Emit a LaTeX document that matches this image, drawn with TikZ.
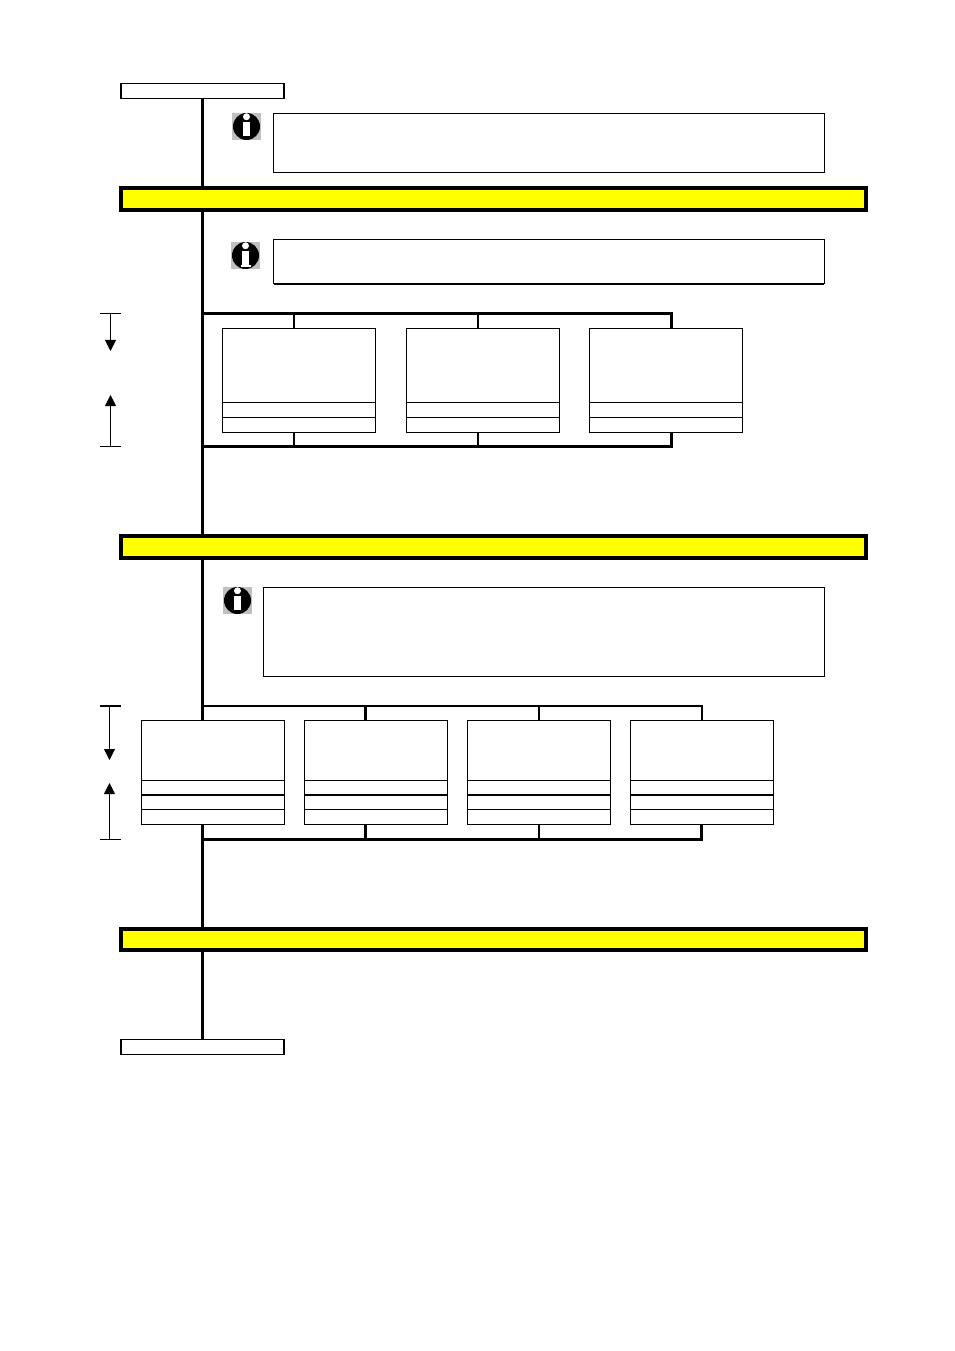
\documentclass[tikz,border=0pt]{standalone}
\usepackage{tikz}
\usetikzlibrary{arrows.meta,positioning}
\usepackage{xcolor}
\definecolor{bandyellow}{RGB}{255,255,0}
\definecolor{icongrey}{RGB}{192,192,192}
\def\px{0.75pt}
\tikzstyle{cell} = [draw, line width=1*\px, fill=white, inner sep=0pt, outer sep=0pt]
\tikzstyle{cella} = [cell, minimum width=153.4*\px]
\tikzstyle{cellb} = [cell, minimum width=142.6*\px]
\tikzstyle{note} = [cell]
\tikzstyle{terminal} = [cell, line width=1.3*\px, minimum width=163*\px, minimum height=15*\px]
\tikzstyle{band} = [draw, line width=4*\px, fill=bandyellow, inner sep=0pt, outer sep=0pt, minimum width=745*\px, minimum height=22*\px]
\tikzstyle{spine} = [line width=3*\px]
\tikzstyle{bus} = [line width=2.8*\px]
\tikzstyle{rule} = [line width=2*\px]
\tikzstyle{base} = [line width=1.6*\px]
\tikzstyle{dim} = [line width=1*\px]
\tikzstyle{arrow} = [dim, -{Triangle[width=11*\px,length=11*\px]}]
\newcommand{\infoicon}[2]{
\node[fill=icongrey, inner sep=0pt, minimum width=29*\px, minimum height=27*\px] (#1) at (#2) {};
\node[fill=black, circle, inner sep=0pt, minimum size=27*\px] (#1disc) at (#1) {};
\node[fill=white, circle, inner sep=0pt, minimum size=7*\px, above=6*\px of #1.center] (#1dot) {};
\node[fill=white, inner sep=0pt, minimum width=7*\px, minimum height=14*\px, below=-5*\px of #1.center] (#1stem) {};
}
\begin{document}
\begin{tikzpicture}[x=\px, y=-\px]
\useasboundingbox (0,0) rectangle (954,1351);
% Terminals
\node[terminal] (start) at (202.5,91) {};
\node[terminal] (end) at (202.5,1047) {};

% Section bands
\node[band] (banda) at (493,199) {};
\node[band] (bandb) at (493,547) {};
\node[band, minimum height=21*\px] (bandc) at (493,939) {};

% Notes
\infoicon{infoa}{246.5,126.5}
\node[note, minimum width=550.9*\px, minimum height=59*\px] (notea) at (548.95,143) {};
\infoicon{infob}{245.5,255.5}
\node[fill=white, inner sep=0pt, minimum width=10*\px, minimum height=1.5*\px, below=0pt of infobstem] (infobbase) {};
\node[note, minimum width=550.9*\px, minimum height=44.5*\px] (noteb) at (548.95,261.75) {};
\infoicon{infoc}{237.5,600.5}
\node[note, minimum width=560.9*\px, minimum height=89*\px] (notec) at (543.95,632) {};
\draw[base] (noteb.south west) -- (noteb.south east);

% Group a - three boxes
\node[cella, minimum height=74*\px] (boxa) at (299.2,365.5) {};
\node[cella, minimum height=15*\px] (boxa1) at (299.2,410) {};
\node[cella, minimum height=15*\px] (boxa2) at (299.2,425) {};
\node[cella, minimum height=74*\px] (boxb) at (483.2,365.5) {};
\node[cella, minimum height=15*\px] (boxb1) at (483.2,410) {};
\node[cella, minimum height=15*\px] (boxb2) at (483.2,425) {};
\node[cella, minimum height=74*\px] (boxc) at (666.2,365.5) {};
\node[cella, minimum height=15*\px] (boxc1) at (666.2,410) {};
\node[cella, minimum height=15*\px] (boxc2) at (666.2,425) {};
\draw[base] (boxa2.south west) -- (boxa2.south east);
\draw[base] (boxb2.south west) -- (boxb2.south east);
\draw[base] (boxc2.south west) -- (boxc2.south east);

% Group b - four boxes
\node[cellb, minimum height=60*\px] (boxd) at (212.8,750.5) {};
\node[cellb, minimum height=14.5*\px] (boxd1) at (212.8,787.75) {};
\node[cellb, minimum height=14.5*\px] (boxd2) at (212.8,802.25) {};
\node[cellb, minimum height=15*\px] (boxd3) at (212.8,817) {};
\node[cellb, minimum height=60*\px] (boxe) at (375.8,750.5) {};
\node[cellb, minimum height=14.5*\px] (boxe1) at (375.8,787.75) {};
\node[cellb, minimum height=14.5*\px] (boxe2) at (375.8,802.25) {};
\node[cellb, minimum height=15*\px] (boxe3) at (375.8,817) {};
\node[cellb, minimum height=60*\px] (boxf) at (538.9,750.5) {};
\node[cellb, minimum height=14.5*\px] (boxf1) at (538.9,787.75) {};
\node[cellb, minimum height=14.5*\px] (boxf2) at (538.9,802.25) {};
\node[cellb, minimum height=15*\px] (boxf3) at (538.9,817) {};
\node[cellb, minimum height=60*\px] (boxg) at (701.9,750.5) {};
\node[cellb, minimum height=14.5*\px] (boxg1) at (701.9,787.75) {};
\node[cellb, minimum height=14.5*\px] (boxg2) at (701.9,802.25) {};
\node[cellb, minimum height=15*\px] (boxg3) at (701.9,817) {};
\draw[rule] (boxd1.south west) -- (boxd1.south east);
\draw[rule] (boxe1.south west) -- (boxe1.south east);
\draw[rule] (boxf1.south west) -- (boxf1.south east);
\draw[rule] (boxg1.south west) -- (boxg1.south east);

% Spine
\draw[spine] (start.south) -- (start.south |- banda.north);
\draw[spine] (start.south |- banda.south) -- (start.south |- bandb.north);
\draw[spine] (start.south |- bandb.south) -- (start.south |- boxd.north);
\draw[spine] (start.south |- boxd3.south) -- (start.south |- bandc.north);
\draw[spine] (start.south |- bandc.south) -- (end.north);

% Bus a
\coordinate (busat) at (202.5,313.7);
\coordinate (busab) at (202.5,446.3);
\coordinate (stubat) at (294,313.7);
\coordinate (stubbt) at (478,313.7);
\coordinate (stubct) at (671.7,313.7);
\coordinate (stubab) at (294,446.3);
\coordinate (stubbb) at (478,446.3);
\coordinate (stubcb) at (671.7,446.3);
\draw[bus] (busat) -- (stubct) -- (stubct |- boxc.north);
\draw[bus] (busab) -- (stubcb) -- (stubcb |- boxc2.south);
\draw[bus] (stubat) -- (stubat |- boxa.north);
\draw[bus] (stubbt) -- (stubbt |- boxb.north);
\draw[bus] (stubab) -- (stubab |- boxa2.south);
\draw[bus] (stubbb) -- (stubbb |- boxb2.south);

% Bus b
\coordinate (busbt) at (202.5,705.7);
\coordinate (busbb) at (202.5,839.5);
\coordinate (stubet) at (365.7,705.7);
\coordinate (stubft) at (539,705.7);
\coordinate (stubgt) at (701.7,705.7);
\coordinate (stubeb) at (365.7,839.5);
\coordinate (stubfb) at (539,839.5);
\coordinate (stubgb) at (701.7,839.5);
\draw[rule] (busbt) -- (stubgt) -- (stubgt |- boxg.north);
\draw[bus] (busbb) -- (stubgb) -- (stubgb |- boxg3.south);
\draw[bus] (stubet) -- (stubet |- boxe.north);
\draw[bus] (stubft) -- (stubft |- boxf.north);
\draw[bus] (stubeb) -- (stubeb |- boxe3.south);
\draw[bus] (stubfb) -- (stubfb |- boxf3.south);

% Dimension marks
\coordinate (dimat) at (110.5,313.5);
\coordinate (dimab) at (110.5,446.5);
\coordinate (tipat) at (110.5,351);
\coordinate (tipab) at (110.5,395);
\draw[dim] (100,313.5) coordinate (tickal) -- (121,313.5) coordinate (tickar);
\draw[dim] (100,446.5) coordinate (tickbl) -- (121,446.5) coordinate (tickbr);
\draw[arrow] (dimat) -- (tipat);
\draw[arrow] (dimab) -- (tipab);

\coordinate (dimbt) at (109.5,706);
\coordinate (dimbb) at (109.5,839.5);
\coordinate (tipbt) at (109.5,760);
\coordinate (tipbb) at (109.5,783);
\draw[rule] (100,706) coordinate (tickcl) -- (121,706) coordinate (tickcr);
\draw[dim] (100,839.5) coordinate (tickdl) -- (121,839.5) coordinate (tickdr);
\draw[arrow] (dimbt) -- (tipbt);
\draw[arrow] (dimbb) -- (tipbb);
\end{tikzpicture}
\end{document}
